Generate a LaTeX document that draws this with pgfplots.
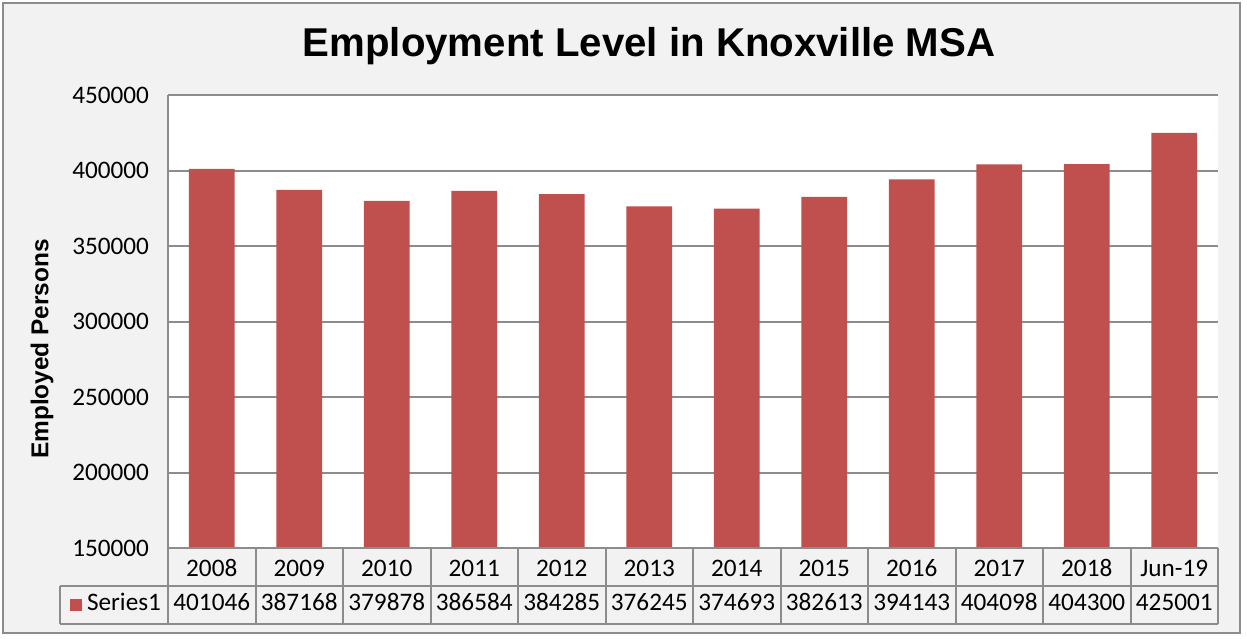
\documentclass[border=0pt]{standalone}
\usepackage{pgfplots}
\pgfplotsset{compat=1.18}
\usepackage{fontspec}
\newfontfamily\cf{Carlito}
\newfontfamily\af{Liberation Sans}
\definecolor{barred}{HTML}{C0504D}
\definecolor{bgray}{HTML}{F2F2F2}
\definecolor{lgray}{HTML}{8C8C8C}

\begin{document}
\begin{tikzpicture}
% page frame, pixel units measured from the top
\begin{scope}[x=0.5pt,y=-0.5pt,shift={(0,319pt)}]
\path (0,0) rectangle (1247,638);
\draw[lgray, line width=1pt, fill=bgray] (3,3) rectangle (1240,633);
\node[anchor=base, font=\af\bfseries\fontsize{20.1}{23}\selectfont] at (649,57) {Employment Level in Knoxville MSA};
\node[rotate=90, font=\af\bfseries\fontsize{12.2}{14}\selectfont] at (42,349) {Employed Persons};
\end{scope}

\begin{axis}[
  at={(84pt,45pt)}, anchor=south west,
  scale only axis, width=525pt, height=226.5pt,
  ybar, bar width=0.525,
  xmin=-0.5, xmax=11.5, ymin=150000, ymax=450000,
  ytick={150000,200000,...,450000},
  scaled y ticks=false,
  /pgf/number format/.cd, fixed, precision=0, 1000 sep={}, assume math mode=true, /pgfplots/.cd,
  xtick={0,...,11},
  xticklabels={2008,2009,2010,2011,2012,2013,2014,2015,2016,2017,2018,Jun-19},
  xticklabel style={anchor=center, text height=1.6ex, text depth=0.3ex, yshift=-11.5pt, font=\cf\fontsize{12.6}{14}\selectfont},
  yticklabel style={xshift=-6pt, font=\cf\fontsize{12.6}{14}\selectfont},
  major tick length=0pt,
  ymajorgrids, grid style={lgray, line width=1pt},
  axis line style={draw=none},
  axis background/.style={fill=white},
  clip mode=individual,
]
\addplot[fill=barred, draw=none] coordinates {
  (0,401046) (1,387168) (2,379878) (3,386584) (4,384285) (5,376245)
  (6,374693) (7,382613) (8,394143) (9,404098) (10,404300) (11,425001)};
\end{axis}

% data table under the plot
\begin{scope}[x=0.5pt,y=-0.5pt,shift={(0,319pt)}, font=\cf\fontsize{12.6}{14}\selectfont]
\draw[lgray, line width=1pt] (168,95) -- (168,548);
\draw[lgray, line width=1pt] (168,548) -- (1218,548);
\draw[lgray, line width=1pt] (60,586) -- (1218,586);
\draw[lgray, line width=1pt] (60,624) -- (1218,624);
\draw[lgray, line width=1pt] (60,586) -- (60,624);
\foreach \k in {0,...,12} {
  \draw[lgray, line width=1pt] ({168+87.5*\k},548) -- ({168+87.5*\k},624);
}
\fill[barred] (70,599) rectangle (82,611);
\node[text height=1.6ex, text depth=0.3ex] at (124,605) {Series1};
\foreach \v [count=\i from 0] in {401046,387168,379878,386584,384285,376245,374693,382613,394143,404098,404300,425001} {
  \node[text height=1.6ex, text depth=0.3ex] at ({168+87.5*(\i+0.5)},605) {\v};
}
\end{scope}
\end{tikzpicture}
\end{document}
